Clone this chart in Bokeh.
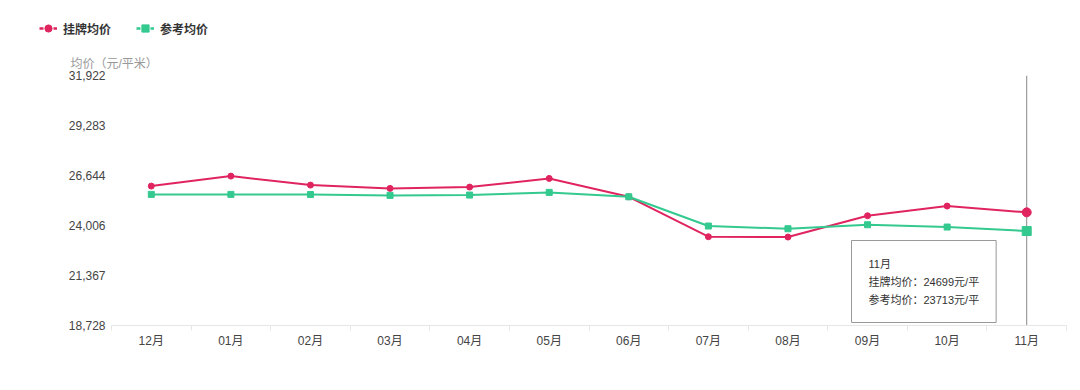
import math
from bokeh.plotting import figure
from bokeh.layouts import column, row
from bokeh.models import Range1d, FixedTicker, NumeralTickFormatter, Legend, LegendItem, Label
from bokeh.embed import file_html
from bokeh.resources import INLINE

# ---- data ----
months = ["12月", "01月", "02月", "03月", "04月", "05月", "06月", "07月", "08月", "09月", "10月", "11月"]
listing_price = [26085, 26612, 26138, 25964, 26032, 26491, 25521, 23413, 23397, 24520, 25031, 24699]
reference_price = [25648, 25648, 25640, 25595, 25611, 25753, 25521, 23977, 23835, 24045, 23924, 23713]
y_ticks = [18728, 21367, 24006, 26644, 29283, 31922]
series_names = ["挂牌均价", "参考均价"]
y_title = "均价（元/平米）"
unit = "元/平"

# ---- styles ----
RED = "#e0245f"
GREEN = "#33c98f"
FONT = "Liberation Sans, Noto Sans CJK SC"
W = 1072
HEAD_H = 70
MAIN_H = 312
B_LEFT, B_RIGHT, B_TOP, B_BOTTOM = 111, 6, 5, 57

n = len(months)
xs = list(range(n))

# ---------- header (legend + y-axis title) ----------
head = figure(width=W, height=HEAD_H, x_range=Range1d(0, W), y_range=Range1d(0, HEAD_H),
              output_backend="svg", toolbar_location=None,
              x_axis_location=None, y_axis_location=None,
              min_border_left=0, min_border_right=0, min_border_top=0, min_border_bottom=0)
head.outline_line_color = None
head.xgrid.visible = False
head.ygrid.visible = False
head.background_fill_color = "white"
head.border_fill_color = "white"

nan = [math.nan]
h1l = head.line(nan, nan, line_color=RED, line_width=2.5, line_dash="4 10")
h1s = head.scatter(nan, nan, marker="circle", fill_color=RED, line_color=RED)
h2l = head.line(nan, nan, line_color=GREEN, line_width=2.5, line_dash="4 10")
h2s = head.scatter(nan, nan, marker="square", fill_color=GREEN, line_color=GREEN)

legend = Legend(items=[LegendItem(label=series_names[0], renderers=[h1l, h1s]),
                       LegendItem(label=series_names[1], renderers=[h2l, h2s])],
                orientation="horizontal", location=(39, 33), padding=0, margin=0,
                spacing=25, glyph_width=18, glyph_height=18, label_height=18,
                label_standoff=6, label_text_font=FONT, label_text_font_size="12px",
                label_text_font_style="bold", label_text_color="#333333",
                background_fill_alpha=0, border_line_color=None)
head.add_layout(legend)

head.add_layout(Label(x=70, y=HEAD_H - 63, x_units="screen", y_units="screen", text=y_title,
                      text_font=FONT, text_font_size="12px", text_color="#999999",
                      text_baseline="middle", text_align="left"))

# ---------- main chart ----------
p = figure(width=W, height=MAIN_H,
           x_range=Range1d(-0.5, n - 0.5),
           y_range=Range1d(y_ticks[0], y_ticks[-1]),
           output_backend="svg", toolbar_location=None,
           min_border_left=B_LEFT, min_border_right=B_RIGHT,
           min_border_top=B_TOP, min_border_bottom=B_BOTTOM)
p.outline_line_color = None
p.background_fill_color = "white"
p.border_fill_color = "white"
p.xgrid.visible = False
p.ygrid.visible = False

# y axis
p.yaxis.ticker = FixedTicker(ticks=y_ticks)
p.yaxis.formatter = NumeralTickFormatter(format="0,0")
p.yaxis.axis_line_color = None
p.yaxis.major_tick_line_color = None
p.yaxis.minor_tick_line_color = None
p.yaxis.major_tick_out = 0
p.yaxis.major_label_standoff = 6
p.yaxis.major_label_text_font = FONT
p.yaxis.major_label_text_font_size = "12px"
p.yaxis.major_label_text_color = "#444444"

# x axis
p.xaxis.ticker = FixedTicker(ticks=xs, minor_ticks=[i - 0.5 for i in range(n + 1)])
p.xaxis.major_label_overrides = {i: m for i, m in enumerate(months)}
p.xaxis.axis_line_color = "#e6e6e6"
p.xaxis.major_tick_line_color = None
p.xaxis.major_tick_out = 0
p.xaxis.minor_tick_line_color = "#e6e6e6"
p.xaxis.minor_tick_out = 5
p.xaxis.minor_tick_in = 0
p.xaxis.major_label_standoff = 3
p.xaxis.major_label_text_font = FONT
p.xaxis.major_label_text_font_size = "12px"
p.xaxis.major_label_text_color = "#444444"

# crosshair at last month
p.segment(x0=[xs[-1]], y0=[y_ticks[0]], x1=[xs[-1]], y1=[y_ticks[-1]], line_color="#888888", line_width=1)

sizes = [6] * (n - 1) + [9]
p.line(xs, listing_price, line_color=RED, line_width=2)
p.scatter(xs, listing_price, marker="circle", size=sizes, fill_color=RED, line_color=RED)
p.line(xs, reference_price, line_color=GREEN, line_width=2)
p.scatter(xs, reference_price, marker="square", size=sizes, fill_color=GREEN, line_color=GREEN)

# tooltip
tip = f"{months[-1]}\n{series_names[0]}：{listing_price[-1]}{unit}\n{series_names[1]}：{reference_price[-1]}{unit}"
p.add_layout(Label(x=740, y=3, x_units="screen", y_units="screen", text=tip,
                   text_font=FONT, text_font_size="11px", text_color="#333333",
                   text_baseline="bottom", text_align="left", text_line_height=1.5,
                   padding=17, background_fill_color="white", background_fill_alpha=0.95,
                   border_line_color="#999999", border_line_width=1))

layout = column(row(head, spacing=0), p, spacing=0)
open("out.html", "w").write(file_html(layout, INLINE))
